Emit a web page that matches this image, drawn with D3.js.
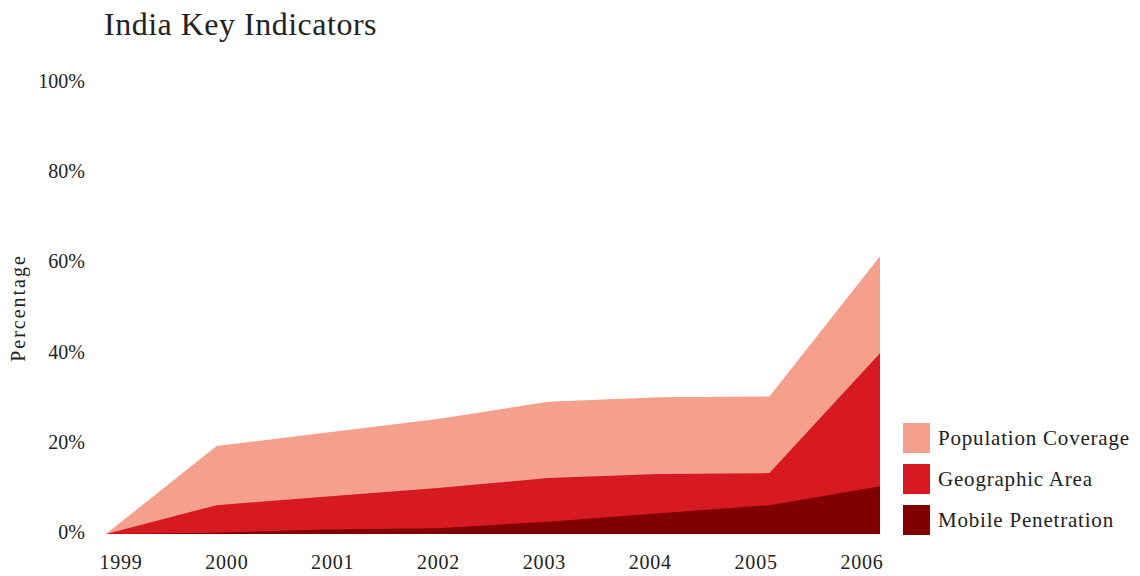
<!DOCTYPE html>
<html lang="en">
<head>
	<script src="https://cdnjs.cloudflare.com/ajax/libs/d3/7.8.5/d3.min.js"></script>
	<style>
		body{ margin: 0; background: #fff; }
		text{ font-family: "Liberation Serif", serif; fill: #222; }
	</style>
</head>
<body>
<svg id="chart" width="1140" height="576"></svg>

<script>

	// values (percent)
	const years = [1999, 2000, 2001, 2002, 2003, 2004, 2005, 2006];
	const populationCoverage = [0, 19.5, 22.5, 25.5, 29.3, 30.3, 30.5, 61.6];
	const geographicArea = [0, 6.4, 8.3, 10.2, 12.4, 13.3, 13.5, 40.1];
	const mobilePenetration = [0, 0.3, 1.0, 1.3, 2.7, 4.6, 6.4, 10.6];
	const yTicks = [0, 20, 40, 60, 80, 100];

	const seriesNames = ["Population Coverage", "Geographic Area", "Mobile Penetration"];
	const seriesValues = [populationCoverage, geographicArea, mobilePenetration];
	const colors = ["#f5a08c", "#d71a21", "#800000"];

	const svg = d3.select('#chart');

	const xScale = d3.scaleLinear()
			.domain([1999, 2006])
			.range([106, 880]);

	// year labels sit on their own slightly narrower spacing in the original
	const labelScale = d3.scalePoint()
			.domain(years)
			.range([121, 862]);

	const yScale = d3.scaleLinear()
			.domain([0, 100])
			.range([534, 83]);

	const area = d3.area()
			.x(d => xScale(d.year))
			.y0(yScale(0))
			.y1(d => yScale(d.value));

	seriesValues.forEach((vals, i) => {
		const rows = years.map((y, j) => ({year: y, value: vals[j]}));
		svg.append('path')
				.datum(rows)
				.attr('d', area)
				.attr('fill', colors[i]);
	});

	// title
	svg.append('text')
			.attr('x', 104)
			.attr('y', 35)
			.attr('font-size', 32)
			.attr('letter-spacing', 0.5)
			.text('India Key Indicators');

	// y axis labels
	svg.append('g')
			.selectAll('text')
			.data(yTicks)
			.enter()
			.append('text')
			.attr('x', 85)
			.attr('y', d => yScale(d) + 5)
			.attr('text-anchor', 'end')
			.attr('font-size', 20)
			.text(d => d + '%');

	svg.append('text')
			.attr('transform', 'translate(25,308) rotate(-90)')
			.attr('text-anchor', 'middle')
			.attr('font-size', 20)
			.attr('letter-spacing', 2)
			.text('Percentage');

	// x axis labels
	svg.append('g')
			.selectAll('text')
			.data(years)
			.enter()
			.append('text')
			.attr('x', d => labelScale(d))
			.attr('y', 569)
			.attr('text-anchor', 'middle')
			.attr('font-size', 20)
			.attr('letter-spacing', 0.8)
			.text(d => d);

	// legend
	const legend = svg.append('g')
			.selectAll('g')
			.data(seriesNames)
			.enter()
			.append('g')
			.attr('transform', (d, i) => `translate(903,${423 + i * 41})`);

	legend.append('rect')
			.attr('width', 27)
			.attr('height', 30)
			.attr('fill', (d, i) => colors[i]);

	legend.append('text')
			.attr('x', 35)
			.attr('y', 22)
			.attr('font-size', 21)
			.attr('letter-spacing', 0.8)
			.text(d => d);

</script>
</body>
</html>
